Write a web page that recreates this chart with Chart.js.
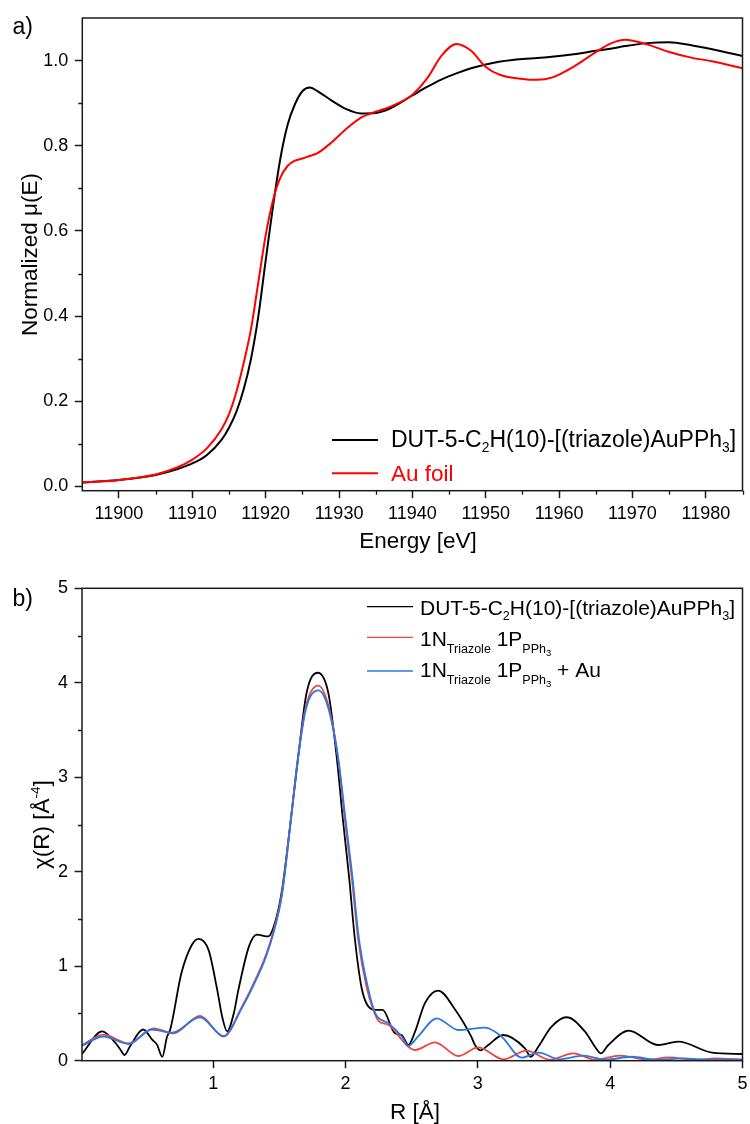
<!DOCTYPE html>
<html>
<head>
<meta charset="utf-8">
<script src="https://cdn.jsdelivr.net/npm/chart.js@4.4.1/dist/chart.umd.min.js"></script>
<style>
  html, body { margin: 0; padding: 0; background: #fff; }
  #wrap { position: relative; width: 750px; height: 1124px; overflow: hidden; }
  canvas { position: absolute; left: 0; }
  #cA { top: 0; }
  #cB { top: 560px; }
</style>
</head>
<body>
<div id="wrap">
  <canvas id="cA" width="750" height="560"></canvas>
  <canvas id="cB" width="750" height="600"></canvas>
</div>
<script>
// ---- a) Au L3-edge XANES ----
const energy = [11895, 11900, 11905, 11908, 11910, 11912, 11914, 11915, 11916, 11917, 11918, 11919,
  11920, 11921, 11922, 11923, 11924, 11925, 11926, 11927, 11929, 11931, 11933, 11935, 11937,
  11940, 11942, 11944, 11946, 11948, 11950, 11952, 11955, 11957, 11959, 11962, 11965, 11967,
  11969, 11972, 11975, 11978, 11981, 11985];
const muSample = [0.009, 0.015, 0.027, 0.041, 0.054, 0.074, 0.110, 0.138, 0.175, 0.228, 0.300, 0.400,
  0.531, 0.658, 0.770, 0.850, 0.898, 0.928, 0.937, 0.929, 0.906, 0.886, 0.876, 0.877, 0.888,
  0.918, 0.938, 0.956, 0.970, 0.982, 0.991, 0.998, 1.004, 1.006, 1.009, 1.015, 1.023, 1.028,
  1.034, 1.041, 1.043, 1.036, 1.026, 1.011];
const muFoil = [0.009, 0.015, 0.028, 0.045, 0.063, 0.090, 0.135, 0.170, 0.222, 0.290, 0.370, 0.480,
  0.590, 0.672, 0.725, 0.753, 0.765, 0.770, 0.776, 0.782, 0.808, 0.840, 0.866, 0.880, 0.892,
  0.920, 0.958, 1.012, 1.039, 1.023, 0.985, 0.966, 0.957, 0.955, 0.960, 0.986, 1.020, 1.040,
  1.049, 1.038, 1.020, 1.007, 0.998, 0.982];
const energyTicks = [11900, 11910, 11920, 11930, 11940, 11950, 11960, 11970, 11980];
const energyMinor = [11905, 11915, 11925, 11935, 11945, 11955, 11965, 11975, 11985];
const muTicks = [0, 0.2, 0.4, 0.6, 0.8, 1.0];
const muMinor = [0.1, 0.3, 0.5, 0.7, 0.9];

// ---- b) Fourier-transformed EXAFS, measured and fitted ----
const rSample = [0.01, 0.16, 0.26, 0.30, 0.33, 0.37, 0.47, 0.54, 0.575, 0.615, 0.65, 0.675, 0.76, 0.84, 0.89,
  0.965, 1.03, 1.07, 1.105, 1.155, 1.19, 1.27, 1.33, 1.415, 1.48, 1.52, 1.565, 1.64, 1.705, 1.79,
  1.87, 1.935, 1.98, 2.026, 2.071, 2.12, 2.16, 2.225, 2.28, 2.373, 2.424, 2.475, 2.525, 2.60,
  2.70, 2.83, 2.95, 2.978, 3.02, 3.079, 3.19, 3.356, 3.40, 3.457, 3.557, 3.67, 3.81, 3.885, 3.93,
  3.986, 4.14, 4.36, 4.515, 4.77, 5.0];
const chiSample = [0.075, 0.31, 0.19, 0.113, 0.06, 0.15, 0.33, 0.22, 0.17, 0.04, 0.25, 0.33, 0.93, 1.23, 1.29,
  1.17, 0.75, 0.45, 0.31, 0.50, 0.75, 1.21, 1.335, 1.315, 1.53, 1.81, 2.30, 3.19, 3.89, 4.106,
  3.89, 3.19, 2.55, 1.95, 1.28, 0.78, 0.60, 0.537, 0.537, 0.29, 0.272, 0.166, 0.307, 0.61,
  0.742, 0.537, 0.254, 0.166, 0.11, 0.166, 0.272, 0.131, 0.042, 0.148, 0.36, 0.46, 0.307, 0.148, 0.078,
  0.166, 0.318, 0.166, 0.201, 0.085, 0.071];
const rFit1 = [0.01, 0.17, 0.36, 0.55, 0.70, 0.90, 1.078, 1.217, 1.318, 1.393, 1.453, 1.52, 1.58, 1.638,
  1.70, 1.794, 1.87, 1.945, 1.995, 2.046, 2.096, 2.159, 2.21, 2.25, 2.326, 2.426, 2.474, 2.525,
  2.676, 2.852, 3.003, 3.192, 3.369, 3.545, 3.721, 3.885, 4.074, 4.288, 4.437, 4.65, 4.792, 5.0];
const chiFit1 = [0.166, 0.275, 0.184, 0.343, 0.29, 0.474, 0.254, 0.573, 0.855, 1.10, 1.36, 1.78, 2.48, 3.19,
  3.75, 3.97, 3.76, 3.19, 2.55, 1.95, 1.28, 0.78, 0.537, 0.42, 0.378, 0.22, 0.148, 0.113,
  0.195, 0.05, 0.142, 0.015, 0.106, 0.01, 0.078, 0.01, 0.053, 0.01, 0.036, 0.01, 0.025, 0.01];
const rFit2 = [0.01, 0.17, 0.36, 0.536, 0.688, 0.90, 1.078, 1.217, 1.318, 1.393, 1.453, 1.52, 1.58, 1.638,
  1.70, 1.794, 1.87, 1.945, 2.0, 2.05, 2.10, 2.165, 2.225, 2.326, 2.426, 2.474, 2.55, 2.689,
  2.852, 3.054, 3.18, 3.331, 3.457, 3.621, 3.797, 3.961, 4.162, 4.35, 4.55, 4.75, 5.0];
const chiFit2 = [0.16, 0.256, 0.177, 0.33, 0.297, 0.46, 0.261, 0.56, 0.84, 1.08, 1.34, 1.76, 2.46, 3.17,
  3.72, 3.92, 3.73, 3.19, 2.55, 1.97, 1.30, 0.80, 0.502, 0.395, 0.254, 0.156, 0.26, 0.449,
  0.325, 0.35, 0.254, 0.032, 0.085, 0.015, 0.053, 0.01, 0.042, 0.01, 0.025, 0.01, 0.01];
const rTicks = [1, 2, 3, 4, 5];
const chiTicks = [0, 1, 2, 3, 4, 5];
const chiMinor = [0.5, 1.5, 2.5, 3.5, 4.5];

const FONT = '"Liberation Sans", Arial, Helvetica, sans-serif';
const AXIS = '#1a1a1a';

// Text runs: [text, fontSize, baselineShift]
function runsWidth(ctx, runs) {
  let w = 0;
  runs.forEach(([t, s]) => { ctx.font = s + 'px ' + FONT; w += ctx.measureText(t).width; });
  return w;
}
function drawRuns(ctx, runs, x, y, color) {
  ctx.fillStyle = color || '#000';
  ctx.textAlign = 'left';
  ctx.textBaseline = 'alphabetic';
  let cx = x;
  runs.forEach(([t, s, dy]) => {
    ctx.font = s + 'px ' + FONT;
    ctx.fillText(t, cx, y + dy);
    cx += ctx.measureText(t).width;
  });
}

// Frame, minor ticks, axis titles, panel letter and legend
const decor = {
  id: 'decor',
  afterDraw(chart, args, o) {
    const ctx = chart.ctx, a = chart.chartArea;
    const xs = chart.scales.x, ys = chart.scales.y;
    ctx.save();
    ctx.strokeStyle = AXIS;
    ctx.lineWidth = 1.5;
    ctx.strokeRect(a.left, a.top, a.right - a.left, a.bottom - a.top);
    ctx.lineWidth = 1.3;
    ctx.beginPath();
    (o.xMinor || []).forEach(v => {
      const p = Math.round(xs.getPixelForValue(v)) + 0.5;
      ctx.moveTo(p, a.bottom); ctx.lineTo(p, a.bottom + 4);
    });
    (o.yMinor || []).forEach(v => {
      const p = Math.round(ys.getPixelForValue(v)) + 0.5;
      ctx.moveTo(a.left, p); ctx.lineTo(a.left - 4, p);
    });
    ctx.stroke();
    const xt = o.xTitle;
    drawRuns(ctx, xt.runs, xt.x - runsWidth(ctx, xt.runs) / 2, xt.y);
    const yt = o.yTitle;
    const yw = runsWidth(ctx, yt.runs);
    ctx.save();
    ctx.translate(yt.x, yt.y);
    ctx.rotate(-Math.PI / 2);
    drawRuns(ctx, yt.runs, -yw / 2, 0);
    ctx.restore();
    drawRuns(ctx, [[o.panel.text, 23, 0]], o.panel.x, o.panel.y);
    const lg = o.legend;
    lg.rows.forEach(r => {
      ctx.strokeStyle = r.color;
      ctx.lineWidth = lg.lineWidth;
      ctx.beginPath();
      ctx.moveTo(lg.x0, r.y); ctx.lineTo(lg.x1, r.y);
      ctx.stroke();
      drawRuns(ctx, r.runs, lg.tx, r.base, r.textColor);
    });
    ctx.restore();
  }
};

function scaleX(min, max, ticks, height, fmt) {
  return {
    type: 'linear', min, max,
    afterBuildTicks: s => { s.ticks = ticks.map(v => ({ value: v })); },
    afterFit: s => { s.height = height; s.paddingLeft = 0; s.paddingRight = 0; },
    grid: { display: true, drawOnChartArea: false, drawTicks: true, tickLength: 7.5, tickColor: AXIS, tickWidth: 1.5 },
    border: { display: false },
    ticks: { color: '#000', font: { family: FONT, size: 18 }, padding: 5.2, maxRotation: 0, autoSkip: false, callback: fmt }
  };
}
function scaleY(min, max, ticks, width, fmt) {
  return {
    type: 'linear', min, max,
    afterBuildTicks: s => { s.ticks = ticks.map(v => ({ value: v })); },
    afterFit: s => { s.width = width; s.paddingTop = 0; s.paddingBottom = 0; },
    grid: { display: true, drawOnChartArea: false, drawTicks: true, tickLength: 7.5, tickColor: AXIS, tickWidth: 1.5 },
    border: { display: false },
    ticks: { color: '#000', font: { family: FONT, size: 18 }, padding: 6.5, autoSkip: false, callback: fmt }
  };
}
function line(xv, yv, color, width, order, label) {
  return {
    label, order,
    data: xv.map((x, i) => ({ x, y: yv[i] })),
    borderColor: color, borderWidth: width, pointRadius: 0,
    cubicInterpolationMode: 'monotone', fill: false
  };
}

const sampleRuns = s => [['DUT-5-C', s, 0], ['2', s * 0.6, 5], ['H(10)-[(triazole)AuPPh', s, 0], ['3', s * 0.6, 5], [']', s, 0]];
const fitRuns = s => [['1N', s, 0], ['Triazole', 12.5, 7], [' 1P', s, 0], ['PPh', 12.5, 7], ['3', 9.5, 10]];

new Chart(document.getElementById('cA'), {
  type: 'line',
  data: {
    datasets: [
      line(energy, muSample, '#000000', 2, 2, 'DUT-5-C2H(10)-[(triazole)AuPPh3]'),
      line(energy, muFoil, '#ff0000', 2, 1, 'Au foil')
    ]
  },
  options: {
    responsive: false, animation: false, devicePixelRatio: 1,
    layout: { padding: { top: 18, right: 7.5, left: 0, bottom: 0 } },
    plugins: {
      legend: { display: false }, tooltip: { enabled: false },
      decor: {
        xMinor: energyMinor, yMinor: muMinor,
        xTitle: { runs: [['Energy [eV]', 22.5, 0]], x: 418, y: 548 },
        yTitle: { runs: [['Normalized \u03bc(E)', 22.5, 0]], x: 37, y: 254.5 },
        panel: { text: 'a)', x: 12.5, y: 34 },
        legend: {
          x0: 332, x1: 378, tx: 391, lineWidth: 2,
          rows: [
            { color: '#000000', textColor: '#000000', y: 440, base: 446.5, runs: sampleRuns(23) },
            { color: '#ff0000', textColor: '#ff0000', y: 473.3, base: 481, runs: [['Au foil', 22.5, 0]] }
          ]
        }
      }
    },
    scales: {
      x: scaleX(11895, 11985, energyTicks, 69.3, v => String(v)),
      y: scaleY(-0.01, 1.1, muTicks, 82.3, v => v.toFixed(1))
    }
  },
  plugins: [decor]
});

new Chart(document.getElementById('cB'), {
  type: 'line',
  data: {
    datasets: [
      line(rSample, chiSample, '#000000', 1.8, 3, 'DUT-5-C2H(10)-[(triazole)AuPPh3]'),
      line(rFit1, chiFit1, '#ee4444', 1.8, 2, '1N Triazole 1P PPh3'),
      line(rFit2, chiFit2, '#2a78e0', 1.8, 1, '1N Triazole 1P PPh3 + Au')
    ]
  },
  options: {
    responsive: false, animation: false, devicePixelRatio: 1,
    layout: { padding: { top: 28.3, right: 7.5, left: 0, bottom: 0 } },
    plugins: {
      legend: { display: false }, tooltip: { enabled: false },
      decor: {
        xMinor: [], yMinor: chiMinor,
        xTitle: { runs: [['R [\u00c5]', 22.5, 0]], x: 415, y: 559 },
        yTitle: { runs: [['\u03c7(R) [\u00c5', 22.5, 0], ['-4', 13.5, -9], [']', 22.5, 0]], x: 48.5, y: 264.7 },
        panel: { text: 'b)', x: 12.5, y: 46 },
        legend: {
          x0: 367, x1: 413, tx: 420, lineWidth: 1.3,
          rows: [
            { color: '#000000', textColor: '#000000', y: 46.7, base: 55, runs: sampleRuns(21) },
            { color: '#ee4444', textColor: '#000000', y: 77.3, base: 86, runs: fitRuns(21) },
            { color: '#2a78e0', textColor: '#000000', y: 111, base: 116.7, runs: fitRuns(21).concat([[' + Au', 21, 0]]) }
          ]
        }
      }
    },
    scales: {
      x: scaleX(0.008, 5, rTicks, 99.3, v => String(v)),
      y: scaleY(0, 5, chiTicks, 82, v => String(v))
    }
  },
  plugins: [decor]
});
</script>
</body>
</html>
